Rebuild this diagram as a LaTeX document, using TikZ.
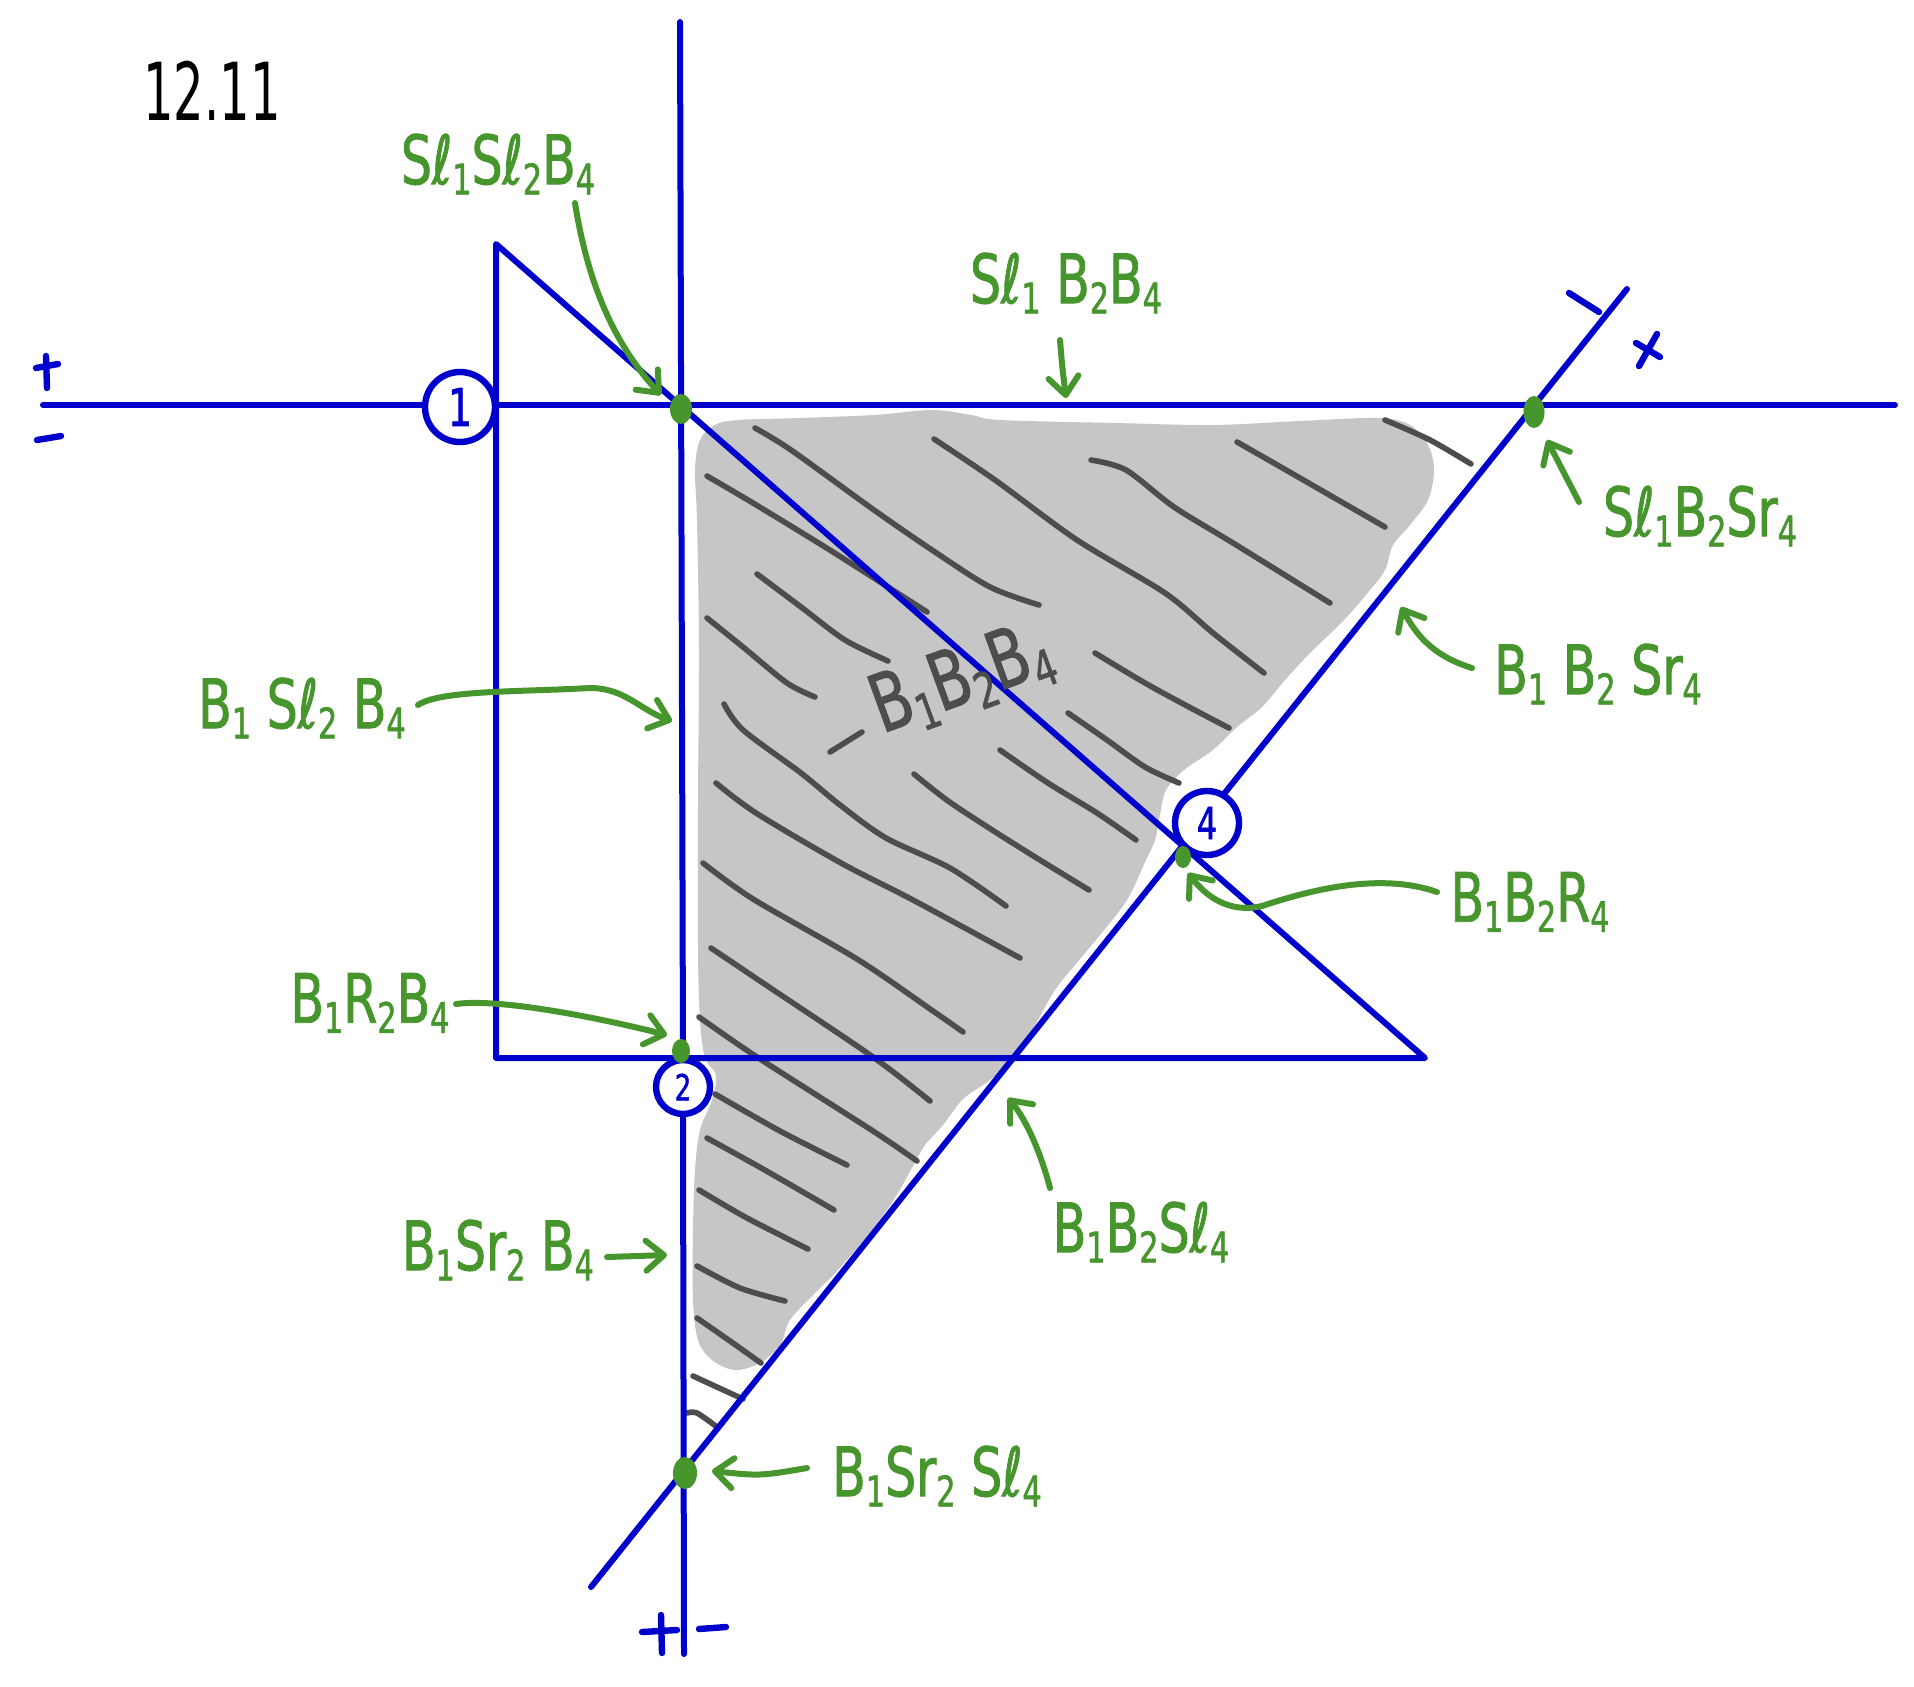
\documentclass[tikz,border=0pt]{standalone}
\usepackage{fontspec}
\usepackage{graphicx}
\newfontfamily\hand[FakeStretch=0.72,FakeBold=1.2]{DejaVu Sans}
\newfontfamily\handplain[FakeStretch=0.6]{DejaVu Sans}
\usetikzlibrary{arrows.meta,shapes.geometric}
\definecolor{pblue}{RGB}{0,0,204}
\definecolor{pgreen}{RGB}{70,150,45}
\definecolor{pfill}{RGB}{198,198,198}
\definecolor{phatch}{RGB}{77,77,77}
\newcommand\ssub[1]{\raisebox{-0.15em}{\scalebox{0.62}{#1}}}
\tikzset{
  blueline/.style={draw=pblue, line width=3pt, line cap=round, line join=round},
  hatchline/.style={draw=phatch, line width=2.8pt, line cap=round, line join=round},
  garrow/.style={draw=pgreen, line width=3pt, line cap=round, line join=round,
     -{Straight Barb[length=9pt,width=15pt,line cap=round,line join=round]}},
  gdot/.style={ellipse, fill=pgreen, inner sep=0pt},
  numcirc/.style={circle, draw=pblue, line width=3.2pt, fill=white, inner sep=0pt, text=pblue},
  lbl/.style={text=pgreen, font=\hand\fontsize{34}{40}\selectfont, inner sep=0pt},
  signmark/.style={draw=pblue, line width=3.2pt, line cap=round}
}
\begin{document}
\begin{tikzpicture}[x=0.5pt,y=-0.5pt]
\useasboundingbox (0,0) rectangle (1914,1686);
\fill[white] (0,0) rectangle (1914,1686);

% shaded region
\fill[pfill] plot[smooth cycle, tension=0.55] coordinates {
(700,440) (715,425) (738,420) (800,418) (874,415) (932,410) (971,415) (1000,420)
(1116,423) (1213,425) (1300,421) (1378,418) (1410,425) (1428,445) (1434,470)
(1428,500) (1410,525) (1393,545) (1385,570) (1370,590) (1344,620) (1310,653)
(1285,680) (1262,707) (1237,727) (1213,750) (1184,770) (1166,790) (1160,815)
(1155,840) (1145,862) (1127,900) (1100,935) (1075,965) (1055,990) (1035,1025)
(1015,1057) (990,1080) (963,1099) (943,1125) (925,1145) (913,1166) (893,1201)
(867,1236) (837,1271) (813,1295) (790,1320) (780,1345) (760,1363) (735,1370)
(712,1360) (698,1340) (693,1300) (693,1230) (695,1170) (700,1130) (712,1100)
(716,1075) (705,1058) (700,1020) (698,950) (698,800) (699,650) (697,520) (695,470)};

% hatching
\draw[hatchline] plot[smooth] coordinates {(755,428) (791,450) (874,510) (932,550) (990,587) (1039,605)};
\draw[hatchline] plot[smooth] coordinates {(707,476) (753,503) (825,547) (888,587) (927,612)};
\draw[hatchline] plot[smooth] coordinates {(934,439) (995,480) (1077,540) (1165,593) (1213,633) (1264,673)};
\draw[hatchline] plot[smooth] coordinates {(1091,460) (1126,470) (1174,507) (1233,543) (1330,603)};
\draw[hatchline] plot[smooth] coordinates {(1237,442) (1286,470) (1385,527)};
\draw[hatchline] plot[smooth] coordinates {(1385,420) (1430,440) (1471,464)};
\draw[hatchline] plot[smooth] coordinates {(757,574) (801,607) (845,640) (888,661)};
\draw[hatchline] plot[smooth] coordinates {(707,618) (743,647) (787,683) (815,697)};
\draw[hatchline] plot[smooth] coordinates {(1095,653) (1145,683) (1189,707) (1229,728)};
\draw[hatchline] plot[smooth] coordinates {(1068,713) (1107,740) (1145,767) (1179,783)};
\draw[hatchline] plot[smooth] coordinates {(1000,750) (1048,783) (1097,813) (1136,840)};
\draw[hatchline] plot[smooth] coordinates {(914,774) (951,803) (1019,847) (1089,890)};
\draw[hatchline] plot[smooth] coordinates {(724,704) (743,730) (801,773) (840,805) (886,838) (950,868) (1006,906)};
\draw[hatchline] plot[smooth] coordinates {(716,783) (756,813) (841,863) (913,900) (1020,958)};
\draw[hatchline] plot[smooth] coordinates {(703,863) (753,899) (857,959) (933,1011) (963,1032)};
\draw[hatchline] plot[smooth] coordinates {(711,948) (763,983) (873,1057) (930,1101)};
\draw[hatchline] plot[smooth] coordinates {(699,1017) (757,1057) (873,1131) (917,1161)};
\draw[hatchline] plot[smooth] coordinates {(715,1094) (780,1131) (847,1165)};
\draw[hatchline] plot[smooth] coordinates {(707,1138) (763,1169) (834,1210)};
\draw[hatchline] plot[smooth] coordinates {(699,1190) (747,1218) (808,1249)};
\draw[hatchline] plot[smooth] coordinates {(697,1266) (740,1288) (785,1301)};
\draw[hatchline] plot[smooth] coordinates {(697,1318) (730,1341) (761,1363)};
\draw[hatchline] (693,1376) -- (743,1399);
\draw[hatchline] plot[smooth] coordinates {(687,1413) (697,1413) (717,1427)};
\draw[hatchline] (830,752) -- (862,732);

% blue lines
\draw[blueline] (43,405) -- (1895,405);
\draw[blueline] (496,244) -- (496,1058) -- (1425,1058) -- cycle;
\draw[blueline] (591,1587) -- (1627,289);
\node[numcirc, minimum size=35pt, font=\hand\fontsize{26}{28}\selectfont] (c1) at (460,407) {1};
\node[numcirc, minimum size=27pt, font=\hand\fontsize{18}{20}\selectfont] (c2) at (683,1087) {2};
\node[numcirc, minimum size=32pt, font=\hand\fontsize{22}{24}\selectfont] (c4) at (1207,823) {4};
\draw[blueline] (680,22) -- (c2.north);
\draw[blueline] (c2.south) -- (684,1654);

% sign marks
\draw[signmark] (46,356) -- (47,388);
\draw[signmark] (36,368) -- (58,364);
\draw[signmark] (37,440) -- (61,436);
\draw[signmark] (1569,293) -- (1599,312);
\draw[signmark] (1639,366) -- (1657,334);
\draw[signmark] (1636,343) -- (1660,357);
\draw[signmark] (642,1632) -- (677,1630);
\draw[signmark] (661,1615) -- (662,1653);
\draw[signmark] (699,1629) -- (726,1627);

% green points
\node[gdot, minimum width=11pt, minimum height=15pt] (d1) at (681,409) {};
\node[gdot, minimum width=10.5pt, minimum height=16pt] (d2) at (1534,412) {};
\node[gdot, minimum width=9pt, minimum height=12pt] (d3) at (681,1051) {};
\node[gdot, minimum width=8pt, minimum height=11pt] (d4) at (1183,857) {};
\node[gdot, minimum width=12pt, minimum height=16pt] (d5) at (685,1473) {};

% texts
\node[font=\handplain\fontsize{40}{44}\selectfont, inner sep=0pt] (title) at (212,91) {12.11};
\node[text=phatch, font=\hand\fontsize{40}{44}\selectfont, inner sep=0pt, rotate=20] (ctext) at (962,680) {B\ssub{1}B\ssub{2}B\ssub{4}};

\node[lbl] (l1) at (498,164) {Sℓ\ssub{1}Sℓ\ssub{2}B\ssub{4}};
\node[lbl] (l2) at (1066,283) {Sℓ\ssub{1} B\ssub{2}B\ssub{4}};
\node[lbl] (l3) at (1700,516) {Sℓ\ssub{1}B\ssub{2}Sr\ssub{4}};
\node[lbl] (l4) at (1598,674) {B\ssub{1} B\ssub{2} Sr\ssub{4}};
\node[lbl] (l5) at (302,708) {B\ssub{1} Sℓ\ssub{2} B\ssub{4}};
\node[lbl] (l6) at (1530,902) {B\ssub{1}B\ssub{2}R\ssub{4}};
\node[lbl] (l7) at (370,1003) {B\ssub{1}R\ssub{2}B\ssub{4}};
\node[lbl] (l8) at (498,1250) {B\ssub{1}Sr\ssub{2} B\ssub{4}};
\node[lbl] (l9) at (1141,1232) {B\ssub{1}B\ssub{2}Sℓ\ssub{4}};
\node[lbl] (l10) at (937,1476) {B\ssub{1}Sr\ssub{2} Sℓ\ssub{4}};

% arrow end points
\coordinate (a1s) at (575,203);  \coordinate (a1e) at (661,395);
\coordinate (a2s) at (1060,340); \coordinate (a2e) at (1066,398);
\coordinate (a3s) at (1579,502); \coordinate (a3e) at (1547,440);
\coordinate (a4s) at (1472,668); \coordinate (a4e) at (1401,607);
\coordinate (a5s) at (418,705);  \coordinate (a5e) at (672,721);
\coordinate (a6s) at (456,1004); \coordinate (a6e) at (667,1035);
\coordinate (a7s) at (607,1257); \coordinate (a7e) at (667,1255);
\coordinate (a8s) at (1050,1188);\coordinate (a8e) at (1008,1098);
\coordinate (a9s) at (807,1468); \coordinate (a9e) at (712,1471);
\coordinate (a10s) at (1437,892);\coordinate (a10e) at (1188,873);

\draw[garrow] (a1s) .. controls (588,285) and (615,345) .. (a1e);
\draw[garrow] (a2s) .. controls (1062,365) .. (a2e);
\draw[garrow] (a3s) .. controls (1565,475) .. (a3e);
\draw[garrow] (a4s) .. controls (1430,655) and (1415,632) .. (a4e);
\draw[garrow] (a5s) .. controls (440,690) and (520,692) .. (590,688) .. controls (625,688) and (640,710) .. (a5e);
\draw[garrow] (a6s) .. controls (500,998) and (600,1018) .. (a6e);
\draw[garrow] (a7s) -- (a7e);
\draw[garrow] (a8s) .. controls (1040,1150) and (1025,1118) .. (a8e);
\draw[garrow] (a9s) .. controls (760,1476) .. (a9e);
\draw[garrow] (a10s) .. controls (1380,872) and (1310,890) .. (1262,906) .. controls (1228,914) and (1205,895) .. (a10e);
\end{tikzpicture}
\end{document}
